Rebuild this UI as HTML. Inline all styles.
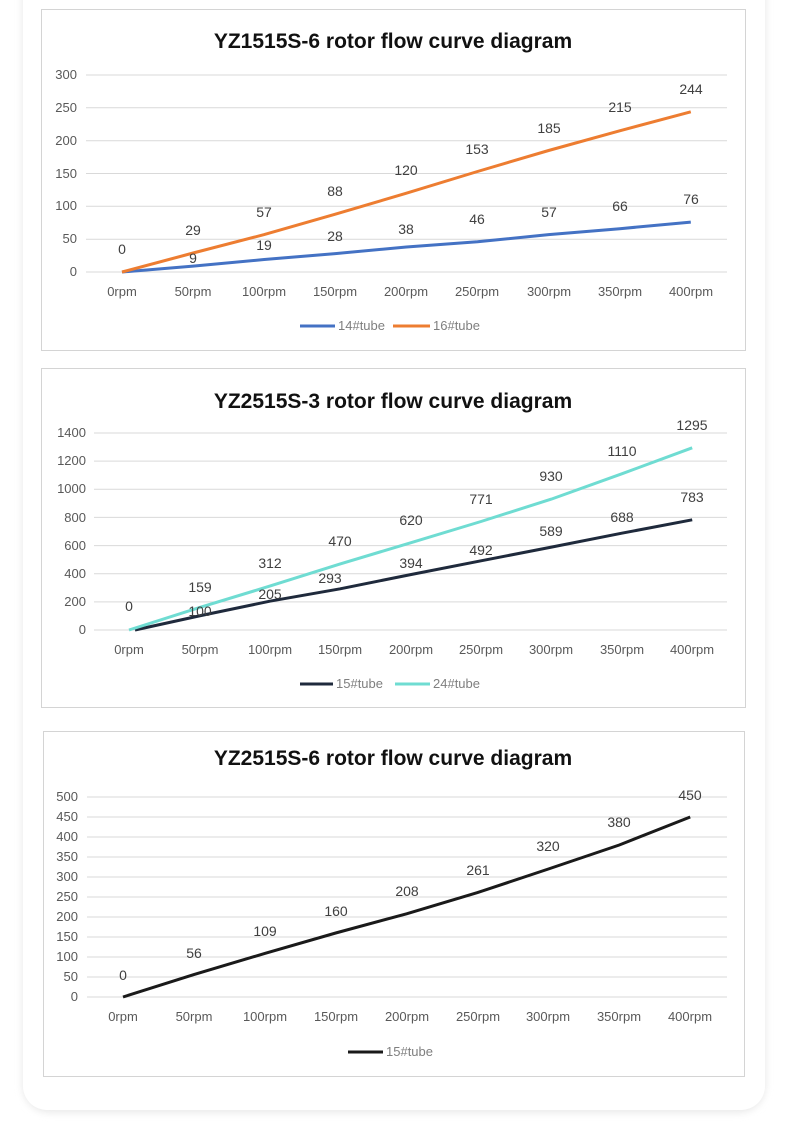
<!DOCTYPE html>
<html><head><meta charset="utf-8"><style>
html,body{margin:0;padding:0;background:#fff;width:790px;height:1134px;overflow:hidden}
svg{display:block}
text{font-family:"Liberation Sans",sans-serif}
.t{font-size:21px;font-weight:bold;fill:#111;text-anchor:middle}
.y{font-size:13px;fill:#595959;text-anchor:end}
.x{font-size:13px;fill:#595959;text-anchor:middle}
.d{font-size:14px;fill:#404040;text-anchor:middle}
.l{font-size:13px;fill:#7f7f7f}
.g{stroke:#d9d9d9;stroke-width:1}
</style></head><body>
<svg width="790" height="1134" viewBox="0 0 790 1134">
<defs><filter id="sh" x="-5%" y="-5%" width="110%" height="110%"><feGaussianBlur stdDeviation="4"/></filter></defs>
<rect x="23" y="-30" width="742" height="1142" rx="26" fill="#e6e6e6" filter="url(#sh)"/>
<rect x="23" y="-30" width="742" height="1140" rx="24" fill="#fff"/>

<!-- Chart 1 -->
<rect x="41.5" y="9.5" width="704" height="341" fill="#fff" stroke="#d4d4d4"/>
<text class="t" x="393" y="48">YZ1515S-6 rotor flow curve diagram</text>
<g class="g">
<line x1="86" x2="727" y1="75" y2="75"/><line x1="86" x2="727" y1="107.8" y2="107.8"/><line x1="86" x2="727" y1="140.7" y2="140.7"/><line x1="86" x2="727" y1="173.5" y2="173.5"/><line x1="86" x2="727" y1="206.3" y2="206.3"/><line x1="86" x2="727" y1="239.2" y2="239.2"/><line x1="86" x2="727" y1="272" y2="272"/>
</g>
<g class="y"><text x="77" y="79">300</text><text x="77" y="112">250</text><text x="77" y="145">200</text><text x="77" y="178">150</text><text x="77" y="210">100</text><text x="77" y="243">50</text><text x="77" y="276">0</text></g>
<g class="x"><text x="122" y="296">0rpm</text><text x="193" y="296">50rpm</text><text x="264" y="296">100rpm</text><text x="335" y="296">150rpm</text><text x="406" y="296">200rpm</text><text x="477" y="296">250rpm</text><text x="549" y="296">300rpm</text><text x="620" y="296">350rpm</text><text x="691" y="296">400rpm</text></g>
<polyline fill="none" stroke="#4472c4" stroke-width="3" points="122,272 193.1,266.1 264.2,259.5 335.3,253.6 406.4,247 477.5,241.8 548.6,234.6 619.7,228.7 690.8,222.1"/>
<polyline fill="none" stroke="#ed7d31" stroke-width="3" points="122,272 193.1,253 264.2,234.6 335.3,214.2 406.4,193.2 477.5,171.5 548.6,150.5 619.7,130.8 690.8,111.8"/>
<g class="d"><text x="122" y="254">0</text><text x="193" y="235">29</text><text x="264" y="217">57</text><text x="335" y="196">88</text><text x="406" y="175">120</text><text x="477" y="154">153</text><text x="549" y="133">185</text><text x="620" y="112">215</text><text x="691" y="94">244</text>
<text x="193" y="263">9</text><text x="264" y="250">19</text><text x="335" y="241">28</text><text x="406" y="234">38</text><text x="477" y="224">46</text><text x="549" y="217">57</text><text x="620" y="211">66</text><text x="691" y="204">76</text></g>
<line x1="300" x2="335" y1="326" y2="326" stroke="#4472c4" stroke-width="3"/><text class="l" x="338" y="330">14#tube</text>
<line x1="393" x2="430" y1="326" y2="326" stroke="#ed7d31" stroke-width="3"/><text class="l" x="433" y="330">16#tube</text>

<!-- Chart 2 -->
<rect x="41.5" y="368.5" width="704" height="339" fill="#fff" stroke="#d4d4d4"/>
<text class="t" x="393" y="408">YZ2515S-3 rotor flow curve diagram</text>
<g class="g">
<line x1="94" x2="727" y1="433" y2="433"/><line x1="94" x2="727" y1="461.1" y2="461.1"/><line x1="94" x2="727" y1="489.3" y2="489.3"/><line x1="94" x2="727" y1="517.4" y2="517.4"/><line x1="94" x2="727" y1="545.6" y2="545.6"/><line x1="94" x2="727" y1="573.7" y2="573.7"/><line x1="94" x2="727" y1="601.9" y2="601.9"/><line x1="94" x2="727" y1="630" y2="630"/>
</g>
<g class="y"><text x="86" y="437">1400</text><text x="86" y="465">1200</text><text x="86" y="493">1000</text><text x="86" y="522">800</text><text x="86" y="550">600</text><text x="86" y="578">400</text><text x="86" y="606">200</text><text x="86" y="634">0</text></g>
<g class="x"><text x="129" y="654">0rpm</text><text x="200" y="654">50rpm</text><text x="270" y="654">100rpm</text><text x="340" y="654">150rpm</text><text x="411" y="654">200rpm</text><text x="481" y="654">250rpm</text><text x="551" y="654">300rpm</text><text x="622" y="654">350rpm</text><text x="692" y="654">400rpm</text></g>
<polyline fill="none" stroke="#1f2a3c" stroke-width="3" points="135,630 199.4,615.9 269.8,601.2 340.2,588.8 410.6,574.6 481,560.8 551.4,547.1 621.8,533.2 692.2,519.8"/>
<polyline fill="none" stroke="#6fdcd2" stroke-width="3" points="129,630 199.4,607.6 269.8,586.1 340.2,563.9 410.6,542.8 481,521.5 551.4,499.1 621.8,473.8 692.2,447.8"/>
<g class="d"><text x="129" y="611">0</text><text x="200" y="592">159</text><text x="270" y="568">312</text><text x="340" y="546">470</text><text x="411" y="525">620</text><text x="481" y="504">771</text><text x="551" y="481">930</text><text x="622" y="456">1110</text><text x="692" y="430">1295</text>
<text x="200" y="616">100</text><text x="270" y="599">205</text><text x="330" y="583">293</text><text x="411" y="568">394</text><text x="481" y="555">492</text><text x="551" y="536">589</text><text x="622" y="522">688</text><text x="692" y="502">783</text></g>
<line x1="300" x2="333" y1="684" y2="684" stroke="#1f2a3c" stroke-width="3"/><text class="l" x="336" y="688">15#tube</text>
<line x1="395" x2="430" y1="684" y2="684" stroke="#6fdcd2" stroke-width="3"/><text class="l" x="433" y="688">24#tube</text>

<!-- Chart 3 -->
<rect x="43.5" y="731.5" width="701" height="345" fill="#fff" stroke="#d4d4d4"/>
<text class="t" x="393" y="765">YZ2515S-6 rotor flow curve diagram</text>
<g class="g">
<line x1="87" x2="727" y1="797" y2="797"/><line x1="87" x2="727" y1="817" y2="817"/><line x1="87" x2="727" y1="837" y2="837"/><line x1="87" x2="727" y1="857" y2="857"/><line x1="87" x2="727" y1="877" y2="877"/><line x1="87" x2="727" y1="897" y2="897"/><line x1="87" x2="727" y1="917" y2="917"/><line x1="87" x2="727" y1="937" y2="937"/><line x1="87" x2="727" y1="957" y2="957"/><line x1="87" x2="727" y1="977" y2="977"/><line x1="87" x2="727" y1="997" y2="997"/>
</g>
<g class="y"><text x="78" y="801">500</text><text x="78" y="821">450</text><text x="78" y="841">400</text><text x="78" y="861">350</text><text x="78" y="881">300</text><text x="78" y="901">250</text><text x="78" y="921">200</text><text x="78" y="941">150</text><text x="78" y="961">100</text><text x="78" y="981">50</text><text x="78" y="1001">0</text></g>
<g class="x"><text x="123" y="1021">0rpm</text><text x="194" y="1021">50rpm</text><text x="265" y="1021">100rpm</text><text x="336" y="1021">150rpm</text><text x="407" y="1021">200rpm</text><text x="478" y="1021">250rpm</text><text x="548" y="1021">300rpm</text><text x="619" y="1021">350rpm</text><text x="690" y="1021">400rpm</text></g>
<polyline fill="none" stroke="#1a1a1a" stroke-width="3" points="123,997 193.9,974.6 264.8,953.4 335.7,933 406.6,913.8 477.5,892.6 548.4,869 619.3,845 690.2,817"/>
<g class="d"><text x="123" y="980">0</text><text x="194" y="958">56</text><text x="265" y="936">109</text><text x="336" y="916">160</text><text x="407" y="896">208</text><text x="478" y="875">261</text><text x="548" y="851">320</text><text x="619" y="827">380</text><text x="690" y="800">450</text></g>
<line x1="348" x2="383" y1="1052" y2="1052" stroke="#1a1a1a" stroke-width="3"/><text class="l" x="386" y="1056">15#tube</text>
</svg>
</body></html>
